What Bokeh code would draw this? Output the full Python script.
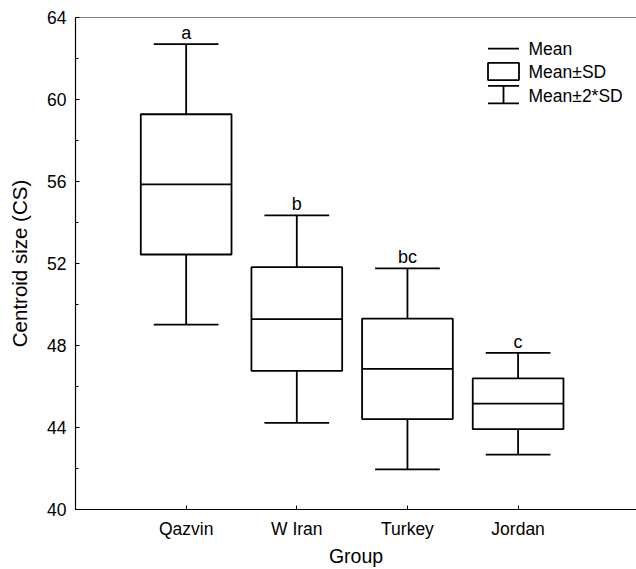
from bokeh.plotting import figure
from bokeh.models import (ColumnDataSource, FixedTicker, SingleIntervalTicker, Range1d, Span)
from bokeh.core.properties import value
from bokeh.embed import file_html
from bokeh.resources import INLINE

# ---- data ----
groups = ["Qazvin", "W Iran", "Turkey", "Jordan"]
means = [55.86, 49.29, 46.86, 45.16]
sds = [3.42, 2.53, 2.45, 1.24]
letters = ["a", "b", "bc", "c"]
y_ticks = [40, 44, 48, 52, 56, 60, 64]

FONT = "Liberation Sans"
xs = [i + 1 for i in range(len(groups))]
box_w = 0.82
cap_w = 0.585

src = ColumnDataSource(dict(
    x=xs,
    left=[x - box_w / 2 for x in xs],
    right=[x + box_w / 2 for x in xs],
    cl=[x - cap_w / 2 for x in xs],
    cr=[x + cap_w / 2 for x in xs],
    mean=means,
    sd_lo=[m - s for m, s in zip(means, sds)],
    sd_hi=[m + s for m, s in zip(means, sds)],
    sd2_lo=[m - 2 * s for m, s in zip(means, sds)],
    sd2_hi=[m + 2 * s for m, s in zip(means, sds)],
    letter=letters,
))

FL, FT, FB = 75, 17, 57  # frame borders (px)
W, H = 636, 569
p = figure(width=W, height=H, output_backend="svg", toolbar_location=None,
           x_range=Range1d(0, 5.07), y_range=Range1d(40, 64),
           min_border_left=FL, min_border_right=0, min_border_top=FT, min_border_bottom=FB)
p.outline_line_color = None
p.grid.visible = False
p.background_fill_color = "white"
p.border_fill_color = "white"

lw = 1.8
# whiskers
p.segment(x0="x", y0="sd_hi", x1="x", y1="sd2_hi", source=src, line_color="black", line_width=lw)
p.segment(x0="x", y0="sd_lo", x1="x", y1="sd2_lo", source=src, line_color="black", line_width=lw)
p.segment(x0="cl", y0="sd2_hi", x1="cr", y1="sd2_hi", source=src, line_color="black", line_width=lw)
p.segment(x0="cl", y0="sd2_lo", x1="cr", y1="sd2_lo", source=src, line_color="black", line_width=lw)
# boxes
p.quad(left="left", right="right", bottom="sd_lo", top="sd_hi", source=src,
       fill_color="white", line_color="black", line_width=lw)
# means
p.segment(x0="left", y0="mean", x1="right", y1="mean", source=src, line_color="black", line_width=lw)
# letters
p.text(x="x", y="sd2_hi", text="letter", source=src, text_align="center",
       text_baseline="alphabetic", y_offset=-11, text_font=value(FONT),
       text_font_size="18px", text_color="black")

# top frame line
p.add_layout(Span(location=64, dimension="width", line_color="black", line_width=1.2))

# ---- legend (drawn manually) ----
frame_h = H - FT - FB
def px2x(px):
    return (px - FL) / (W - FL) * 5.07

def px2y(py):
    return 64 - (py - FT) / frame_h * 24

lx0, lx1, lxm, ltx = px2x(487.5), px2x(518.5), px2x(503), px2x(528)
p.segment(x0=[lx0], y0=[px2y(48.3)], x1=[lx1], y1=[px2y(48.3)], line_color="black", line_width=lw)
p.quad(left=[lx0], right=[lx1], top=[px2y(62.7)], bottom=[px2y(80)], fill_color="white",
       line_color="black", line_width=lw)
p.segment(x0=[lx0, lx0, lxm], y0=[px2y(85.7), px2y(103.3), px2y(85.7)],
          x1=[lx1, lx1, lxm], y1=[px2y(85.7), px2y(103.3), px2y(103.3)],
          line_color="black", line_width=lw)
p.text(x=[ltx] * 3, y=[px2y(49), px2y(71.5), px2y(95.5)],
       text=["Mean", "Mean\u00b1SD", "Mean\u00b12*SD"], text_align="left", text_baseline="middle",
       text_font=value(FONT), text_font_size="17.5px", text_color="black")

# ---- axes ----
xa = p.xaxis[0]
xa.ticker = FixedTicker(ticks=xs)
xa.major_label_overrides = {x: g for x, g in zip(xs, groups)}
xa.axis_label = "Group"
ya = p.yaxis[0]
ya.ticker = SingleIntervalTicker(interval=4, num_minor_ticks=2)
ya.axis_label = "Centroid size (CS)"

for ax in (xa, ya):
    ax.axis_line_color = "black"
    ax.axis_line_width = 1.2
    ax.major_tick_line_color = "black"
    ax.major_tick_in = 4
    ax.major_tick_out = 0
    ax.minor_tick_in = 3
    ax.minor_tick_out = 0
    ax.major_label_text_font = FONT
    ax.major_label_text_font_size = "17.5px"
    ax.major_label_text_color = "black"
    ax.axis_label_text_font = FONT
    ax.axis_label_text_font_style = "normal"
    ax.axis_label_text_color = "black"
xa.minor_tick_line_color = None
ya.minor_tick_line_color = "black"
xa.major_label_standoff = 9
xa.axis_label_standoff = 3
xa.axis_label_text_font_size = "19.5px"
ya.major_label_standoff = 9
ya.axis_label_standoff = 13
ya.axis_label_text_font_size = "20.5px"

open("out.html", "w").write(file_html(p, INLINE))
